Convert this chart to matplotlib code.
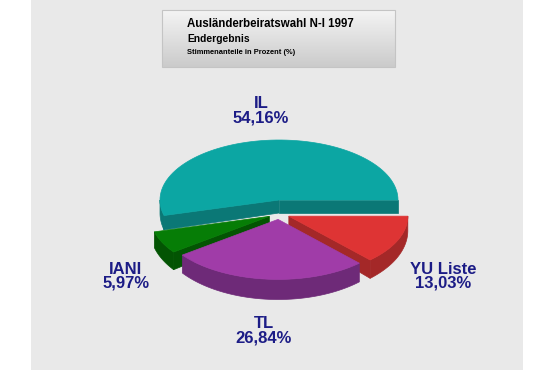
import numpy as np
import matplotlib.pyplot as plt
from matplotlib.patches import Polygon, Rectangle
from matplotlib.colors import LinearSegmentedColormap

plt.rcParams['font.family'] = ['Liberation Sans', 'DejaVu Sans']

# data
labels = ['IL', 'IANI', 'TL', 'YU Liste']
shares = [54.16, 5.97, 26.84, 13.03]
explode = [0, 0.09, 0.09, 0.09]
top_colors = ['#0ca6a3', '#067d06', '#a03ca8', '#de3434']
side_colors = ['#0b7876', '#035403', '#6e2a78', '#a42828']
label_pos = [(261, 104, 118), (126, 269, 283), (264, 324, 338), (443, 269, 283)]

# pie geometry (pixel-like units, y down)
CX, CY = 279, 200
RX, RY = 119, 60
D0, DK = 13, 0.09
DROP = 14

fig = plt.figure(figsize=(5.55, 3.70), dpi=100)
fig.patch.set_facecolor('white')
ax = fig.add_axes([0, 0, 1, 1])
ax.axis('off')

ax.add_patch(Rectangle((31, 0), 492, 370, facecolor='#e9e9e9', edgecolor='none', zorder=0))

# title box with gradient
grad = np.linspace(0, 1, 60).reshape(-1, 1)
cmap = LinearSegmentedColormap.from_list('g', ['#f4f4f4', '#cbcbcb'])
ax.imshow(grad, cmap=cmap, extent=[162, 395, 67, 10], origin='upper', aspect='auto', zorder=1)
ax.add_patch(Rectangle((162, 10), 233, 57, facecolor='none', edgecolor='#c4c4c4', lw=0.8, zorder=2))
ax.text(187, 24, 'Ausländerbeiratswahl N-I 1997', fontsize=8.3, fontweight='bold', va='center', zorder=3)
ax.text(187, 39, 'Endergebnis', fontsize=7.4, fontweight='bold', va='center', zorder=3)
ax.text(187, 53, 'Stimmenanteile in Prozent (%)', fontsize=5.4, fontweight='bold', va='center', zorder=3)


def depth(y):
    return D0 + DK * (np.asarray(y) - CY)


def rim(ox, oy, a1, a2, n=80):
    t = np.radians(np.linspace(a1, a2, n))
    return ox + RX * np.cos(t), oy - RY * np.sin(t)


starts = np.concatenate([[0], np.cumsum(shares)[:-1]]) * 3.6
ends = np.cumsum(shares) * 3.6
mids = (starts + ends) / 2

# back to front
order = sorted(range(len(shares)), key=lambda i: -np.sin(np.radians(mids[i])))
z = 5
for i in order:
    a1, a2, m = starts[i], ends[i], mids[i]
    e = explode[i]
    ox = CX + e * RX * np.cos(np.radians(m))
    oy = CY - e * RY * np.sin(np.radians(m)) + (DROP if e > 0 else 0)
    sc = side_colors[i]
    # radial faces
    faces = []
    if np.cos(np.radians(a1)) > 1e-9:
        faces.append(a1)
    if np.cos(np.radians(a2)) < -1e-9:
        faces.append(a2)
    for a in faces:
        px, py = rim(ox, oy, a, a, 1)
        px, py = px[0], py[0]
        pts = [(ox, oy), (px, py), (px, py + depth(py)), (ox, oy + depth(oy))]
        ax.add_patch(Polygon(pts, closed=True, facecolor=sc, edgecolor=sc, lw=0.5, zorder=z))
    # outer rim wall (front half)
    lo, hi = max(a1, 180), min(a2, 360)
    if hi > lo:
        xs, ys = rim(ox, oy, lo, hi)
        top = np.column_stack([xs, ys])
        bot = np.column_stack([xs, ys + depth(ys)])[::-1]
        ax.add_patch(Polygon(np.vstack([top, bot]), closed=True, facecolor=sc, edgecolor=sc, lw=0.5, zorder=z))
    # top face
    xs, ys = rim(ox, oy, a1, a2)
    pts = np.vstack([[ox, oy], np.column_stack([xs, ys])])
    ax.add_patch(Polygon(pts, closed=True, facecolor=top_colors[i], edgecolor=top_colors[i], lw=0.5, zorder=z + 1))
    z += 2

for i, lab in enumerate(labels):
    x, y1, y2 = label_pos[i]
    pct = f'{shares[i]:.2f}'.replace('.', ',') + '%'
    ax.text(x, y1, lab, fontsize=12, fontweight='bold', color='#1c1c86', ha='center', va='center', zorder=20)
    ax.text(x, y2, pct, fontsize=12, fontweight='bold', color='#1c1c86', ha='center', va='center', zorder=20)

ax.set_xlim(0, 555)
ax.set_ylim(370, 0)
fig.savefig('out.png', dpi=100, facecolor='white')
